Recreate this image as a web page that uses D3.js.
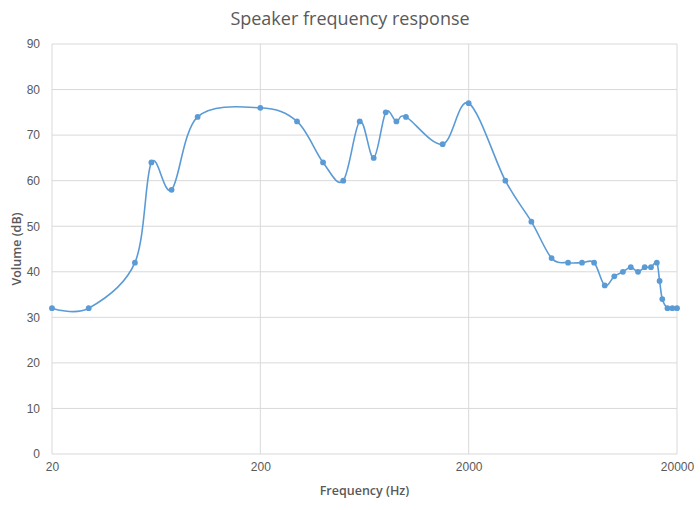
<!DOCTYPE html>
<html>
<head>
<meta charset="utf-8">
<script src="https://cdn.jsdelivr.net/npm/d3@7"></script>
<style>
  body { margin: 0; background: #fff; }
  svg { font-family: 'Open Sans', sans-serif; }
</style>
</head>
<body>
<svg id="chart" width="700" height="510"></svg>
<script>
// data
var freqs = [20, 30, 50, 60, 75, 100, 200, 300, 400, 500, 600, 700, 800, 900, 1000, 1500, 2000,
             3000, 4000, 5000, 6000, 7000, 8000, 9000, 10000, 11000, 12000, 13000, 14000, 15000,
             16000, 16500, 17000, 18000, 19000, 20000];
var volumes = [32, 32, 42, 64, 58, 74, 76, 73, 64, 60, 73, 65, 75, 73, 74, 68, 77,
               60, 51, 43, 42, 42, 42, 37, 39, 40, 41, 40, 41, 41,
               42, 38, 34, 32, 32, 32];
var xTicks = [20, 200, 2000, 20000];
var yTicks = [0, 10, 20, 30, 40, 50, 60, 70, 80, 90];

var title = 'Speaker frequency response';
var xTitle = 'Frequency (Hz)';
var yTitle = 'Volume (dB)';

var m = {left: 52, right: 23, top: 44, bottom: 56};
var w = 700, h = 510;
var blue = '#5b9bd5', grid = '#d9d9d9', txt = '#595959';

var svg = d3.select('#chart');

var x = d3.scaleLog()
    .domain([20, 20000])
    .range([m.left, w - m.right]);
var y = d3.scaleLinear()
    .domain([0, 90])
    .range([h - m.bottom, m.top]);

// gridlines
svg.append('g').selectAll('line')
    .data(yTicks)
    .enter()
    .append('line')
    .attr('x1', m.left)
    .attr('x2', w - m.right)
    .attr('y1', function(d) { return y(d); })
    .attr('y2', function(d) { return y(d); })
    .attr('stroke', grid)
    .attr('stroke-width', 1);

svg.append('g').selectAll('line')
    .data(xTicks)
    .enter()
    .append('line')
    .attr('x1', function(d) { return x(d); })
    .attr('x2', function(d) { return x(d); })
    .attr('y1', y(0))
    .attr('y2', y(90))
    .attr('stroke', grid)
    .attr('stroke-width', 1);

// axes (labels only, lines come from grid)
var xAxis = svg.append('g')
    .attr('transform', 'translate(0,' + (y(0) + 5) + ')')
    .call(d3.axisBottom(x).tickValues(xTicks).tickFormat(d3.format('d')).tickSize(0));
var yAxis = svg.append('g')
    .attr('transform', 'translate(' + (m.left - 9) + ',0)')
    .call(d3.axisLeft(y).tickValues(yTicks).tickSize(0));

[xAxis, yAxis].forEach(function(a) {
  a.select('.domain').remove();
  a.selectAll('text')
    .attr('fill', txt)
    .style('font-size', '12px');
});

// the line
var pts = freqs.map(function(f, i) { return [f, volumes[i]]; });

var line = d3.line()
    .x(function(d) { return x(d[0]); })
    .y(function(d) { return y(d[1]); })
    .curve(d3.curveCardinal.tension(0));

svg.append('path')
    .datum(pts)
    .attr('d', line)
    .attr('fill', 'none')
    .attr('stroke', blue)
    .attr('stroke-width', 1.6);

svg.append('g').selectAll('circle')
    .data(pts)
    .enter()
    .append('circle')
    .attr('cx', function(d) { return x(d[0]); })
    .attr('cy', function(d) { return y(d[1]); })
    .attr('r', 2.9)
    .attr('fill', blue);

// titles
svg.append('text')
    .attr('x', 350)
    .attr('y', 25)
    .attr('text-anchor', 'middle')
    .attr('fill', txt)
    .style('font-size', '18px')
    .text(title);

svg.append('text')
    .attr('x', (m.left + w - m.right) / 2)
    .attr('y', 495)
    .attr('text-anchor', 'middle')
    .attr('fill', txt)
    .style('font-size', '12.5px')
    .style('font-weight', '600')
    .text(xTitle);

svg.append('text')
    .attr('transform', 'translate(21,' + ((m.top + h - m.bottom) / 2) + ') rotate(-90)')
    .attr('text-anchor', 'middle')
    .attr('fill', txt)
    .style('font-size', '12.5px')
    .style('font-weight', '600')
    .text(yTitle);
</script>
</body>
</html>
